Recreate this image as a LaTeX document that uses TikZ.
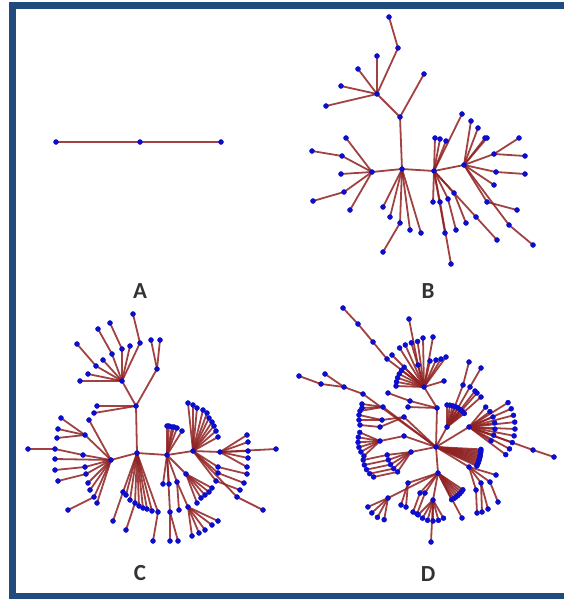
\documentclass[tikz,border=0pt]{standalone}
\usepackage{fontspec}
\newfontfamily\labfont{Carlito}
\usepackage{tkz-euclide}
\definecolor{EdgeClr}{rgb}{0.56,0.13,0.13}
\definecolor{DotClr}{rgb}{0.05,0.05,0.8}
\definecolor{FrameClr}{rgb}{0.13,0.29,0.49}
\definecolor{TextClr}{rgb}{0.2,0.2,0.2}

\begin{document}
\begin{tikzpicture}[x=1pt,y=-1pt]
\useasboundingbox (0,0) rectangle (564,599);
\tkzSetUpLine[line width=1.8pt,color=EdgeClr]
\tkzSetUpPoint[fill=DotClr,color=DotClr,size=5]

\draw[line width=7pt,color=FrameClr] (12.3,5.5) rectangle (580,596);

% tree A
\tkzDefPoints{56/142/a1,140/142/a2,221/142/a3}

% tree B
\tkzDefPoints{402/169/b0,400/117/b1,377/94/b2,398/48/b3,389/17/b4,
377/56/b5,358/69/b6,341/86/b7,326/106/b8,424/74/b9,
372/172/b10,346/138/b11,342/156/b12,312/151/b13,341/174/b14,
344/192/b15,313/201/b16,350/210/b17,
383/207/b18,390/217/b19,400/223/b20,383/252/b21,410/230/b22,421/233/b23,
434/171/b24,435/138/b25,440/139/b26,446/141/b27,462/114/b28,
433/202/b29,440/202/b30,448/199/b31,454/193/b32,445/233/b33,
451/264/b34,456/230/b35,466/223/b36,476/217/b37,497/240/b38,
464/165/b39,471/121/b40,478/128/b41,485/138/b42,487/138/b43,
494/154/b44,519/138/b45,525/156/b46,496/172/b47,525/174/b48,
494/185/b49,487/202/b50,517/210/b51,509/225/b52,533/245/b53}

% tree C
\tkzDefPoints{137/453/c0,136/406/c1,122/381/c2,97/406/c3,94/413/c4,
157/369/c5,151/340/c6,160/340/c7,140/343/c8,133/314/c9,
122/349/c10,110/323/c11,112/354/c12,98/329/c13,96/366/c14,
77/344/c15,130/346/c16,103/360/c17,88/374/c18,80/381/c19,
111/460/c20,89/420/c21,85/435/c22,61/418/c23,58/429/c24,57/438/c25,
83/455/c26,55/449/c27,28/449/c28,55/459/c29,85/467/c30,55/470/c31,
86/474/c32,58/481/c33,88/483/c34,90/490/c35,94/497/c36,68/510/c37,97/503/c38,
123/492/c40,126/495/c41,130/500/c42,135/503/c43,139/506/c44,
143/508/c45,147/509/c46,152/511/c47,158/512/c48,
113/521/c49,126/530/c50,153/541/c51,
167/455/c52,167/426/c53,169/426/c54,172/427/c55,174/427/c56,177/428/c57,182/431/c58,
193/451/c59,188/403/c60,193/405/c61,197/408/c62,203/410/c63,207/413/c64,
209/418/c65,212/422/c66,214/426/c67,216/431/c68,218/437/c69,
220/452/c70,247/435/c71,248/442/c72,248/451/c73,248/458/c74,247/467/c75,276/449/c76,
218/467/c77,247/474/c78,218/473/c79,244/483/c80,216/481/c81,240/490/c82,
237/497/c83,263/510/c84,
163/484/c85,169/484/c86,170/512/c87,170/541/c88,178/541/c89,
177/482/c90,179/510/c91,188/507/c92,192/536/c93,199/533/c94,205/530/c95,
212/525/c96,218/521/c97,
186/474/c98,197/503/c99,201/498/c100,205/495/c101,209/492/c102,212/488/c103}

% tree D
\tkzDefPoints{436/447/dM,447/427/dU,469/427/dV,469/467/dY,438/473/dW,433/500/dX,
411/452/dE,404/436/dF,380/441/dG,404/417/dI,383/407/dJ,363/394/dK,
437/408/dN,424/387/dP,388/498/dR,
463/385/dU1,469/362/dU2,470/387/dU3,481/368/dU4,475/391/dU5,477/393/dU6,481/397/dU7,
533/450/dV1,554/457/dV2,
481/483/dY1,490/482/dY2,496/475/dY3,476/490/dY4,477/513/dY5,482/512/dY6,
488/509/dY7,498/502/dY8,
462/518/dW0,408/483/dW1,420/493/dW3,425/493/dW4,406/507/dW5,401/505/dW6,
413/512/dW7,417/514/dW8,431/542/dX1,
382/420/dI1,380/427/dI2,359/415/dI3,359/420/dI4,360/425/dI5,
362/404/dJ1,362/408/dJ2,360/411/dJ3,
344/387/dK1,321/384/dK2,299/376/dK3,325/374/dK4,
410/401/dN1,408/407/dN2,388/393/dN3,
444/381/dP1,430/361/dP2,436/360/dP3,441/359/dP4,446/357/dP5,
423/338/dP6,433/337/dP7,418/365/dP8,409/319/dP9,
343/308/dL1,358/324/dL2,373/342/dL3,387/359/dL4,392/355/dL5}

\def\DFans{dM/dMa/45/3/25/12,dU/dUa/22/270/322/8,dV/dVa/26/310/392/7,
dV/dVb/46/328/397/9,dW/dWa/30/34/63/7,dX/dXa/21/60/135/6,dR/dRa/22/100/156/4,
dE/dEa/24/124/173/5,dG/dGa/22/137/203/6,dP/dPa/46/238/262/4,dP/dPb/28/182/225/6}
\foreach \hb/\pf/\rd/\angA/\angB/\num in \DFans{
  \foreach \i in {1,...,\num}{
    \pgfmathsetmacro\ang{\angA+(\i-1)*(\angB-\angA)/(\num-1)}
    \tkzDefShiftPoint[\hb](\ang:\rd){\pf\i}
  }
}
\foreach \i in {1,...,5}{\tkzDefShiftPoint[dEa\i](168:24.5){dEb\i}}

\tkzDefPoints{140/291/lA,428/291/lB,140/573/lC,428/574/lD}

% edges
\begin{scope}[opacity=.85]
\tkzDrawSegments(a1,a2 a2,a3)

\tkzDrawSegments(b4,b3 b3,b2 b2,b5 b2,b6 b2,b7 b2,b8 b2,b1 b1,b9 b1,b0
  b0,b10 b10,b11 b10,b12 b12,b13 b10,b14 b10,b15 b15,b16 b10,b17
  b0,b18 b0,b19 b0,b20 b20,b21 b0,b22 b0,b23
  b0,b24 b24,b25 b24,b26 b24,b27 b24,b28
  b24,b29 b24,b30 b30,b34 b24,b33 b24,b31 b31,b35 b24,b32 b32,b36 b24,b37 b37,b38
  b24,b39 b39,b40 b39,b41 b39,b42 b39,b43 b39,b44 b44,b45 b44,b46
  b39,b47 b47,b48 b39,b49 b39,b50 b50,b51 b39,b52 b52,b53)

\tkzDrawSegments(c0,c1 c1,c2 c1,c3 c1,c4 c1,c5 c5,c6 c5,c7
  c2,c8 c8,c9 c2,c10 c10,c11 c2,c12 c12,c13 c2,c14 c14,c15 c2,c16 c2,c17 c2,c18 c2,c19
  c0,c20 c20,c21 c20,c22 c22,c23 c22,c24 c22,c25 c20,c26 c26,c27 c27,c28 c20,c29
  c20,c30 c30,c31 c20,c32 c32,c33 c20,c34 c20,c35 c20,c36 c36,c37 c20,c38
  c40,c49 c43,c50 c48,c51 c0,c52 c52,c59 c59,c70
  c59,c77 c77,c78 c59,c79 c79,c80 c59,c81 c81,c82 c59,c83 c83,c84
  c52,c85 c52,c86 c52,c87 c87,c88 c87,c89 c52,c90 c90,c91 c90,c92 c52,c98)
\foreach \i in {40,...,48}{\tkzDrawSegment(c0,c\i)}
\foreach \i in {53,...,58}{\tkzDrawSegment(c52,c\i)}
\foreach \i in {60,...,69}{\tkzDrawSegment(c59,c\i)}
\foreach \i in {71,...,76}{\tkzDrawSegment(c70,c\i)}
\foreach \i in {93,...,97}{\tkzDrawSegment(c92,c\i)}
\foreach \i in {99,...,103}{\tkzDrawSegment(c98,c\i)}

\tkzDrawSegments(dM,dU dM,dV dM,dY dM,dW dW,dX dM,dE dM,dF dF,dG dM,dI dM,dJ dM,dK
  dM,dN dN,dP dW,dR
  dU,dU1 dU1,dU2 dU,dU3 dU3,dU4 dU,dU5 dU,dU6 dU,dU7 dV,dV1 dV1,dV2
  dY,dY1 dY,dY2 dY,dY3 dY,dY4 dY4,dY5 dY1,dY6 dY1,dY7 dY2,dY8
  dW,dW0 dW,dW1 dW1,dW5 dW1,dW6 dW,dW3 dW3,dW7 dW,dW4 dW4,dW8 dX,dX1
  dI,dI1 dI,dI2 dI1,dI3 dI1,dI4 dI2,dI5 dJ,dJ1 dJ,dJ2 dJ,dJ3
  dK,dK1 dK1,dK2 dK2,dK3 dK1,dK4 dN,dN1 dN,dN2 dN1,dN3
  dP,dP1 dP,dP2 dP,dP3 dP,dP4 dP,dP5 dP,dP6 dP,dP7 dP,dP8 dP8,dP9
  dL1,dL2 dL2,dL3 dL3,dL4 dL4,dP dL5,dP)
\foreach \hb/\pf/\rd/\angA/\angB/\num in \DFans{
  \foreach \i in {1,...,\num}{\tkzDrawSegment(\hb,\pf\i)}
}
\foreach \i in {1,...,5}{\tkzDrawSegment(dEa\i,dEb\i)}
\end{scope}

% dots
\tkzDrawPoints(a1,a2,a3)
\foreach \i in {0,...,53}{\tkzDrawPoint(b\i)}
\foreach \i in {0,...,38,40,41,...,103}{\tkzDrawPoint(c\i)}
\tkzDrawPoints(dM,dU,dV,dY,dW,dX,dE,dF,dG,dI,dJ,dK,dN,dP,dR,
  dU1,dU2,dU3,dU4,dU5,dU6,dU7,dV1,dV2,dY1,dY2,dY3,dY4,dY5,dY6,dY7,dY8,
  dW0,dW1,dW3,dW4,dW5,dW6,dW7,dW8,dX1,dI1,dI2,dI3,dI4,dI5,dJ1,dJ2,dJ3,
  dK1,dK2,dK3,dK4,dN1,dN2,dN3,dP1,dP2,dP3,dP4,dP5,dP6,dP7,dP8,dP9,
  dL1,dL2,dL3,dL4,dL5)
\foreach \hb/\pf/\rd/\angA/\angB/\num in \DFans{
  \foreach \i in {1,...,\num}{\tkzDrawPoint(\pf\i)}
}
\foreach \i in {1,...,5}{\tkzDrawPoint(dEb\i)}

\tkzLabelPoint[anchor=center,text=TextClr,font=\labfont\bfseries\fontsize{23}{23}\selectfont](lA){A}
\tkzLabelPoint[anchor=center,text=TextClr,font=\labfont\bfseries\fontsize{23}{23}\selectfont](lB){B}
\tkzLabelPoint[anchor=center,text=TextClr,font=\labfont\bfseries\fontsize{23}{23}\selectfont](lC){C}
\tkzLabelPoint[anchor=center,text=TextClr,font=\labfont\bfseries\fontsize{23}{23}\selectfont](lD){D}

\end{tikzpicture}
\end{document}
